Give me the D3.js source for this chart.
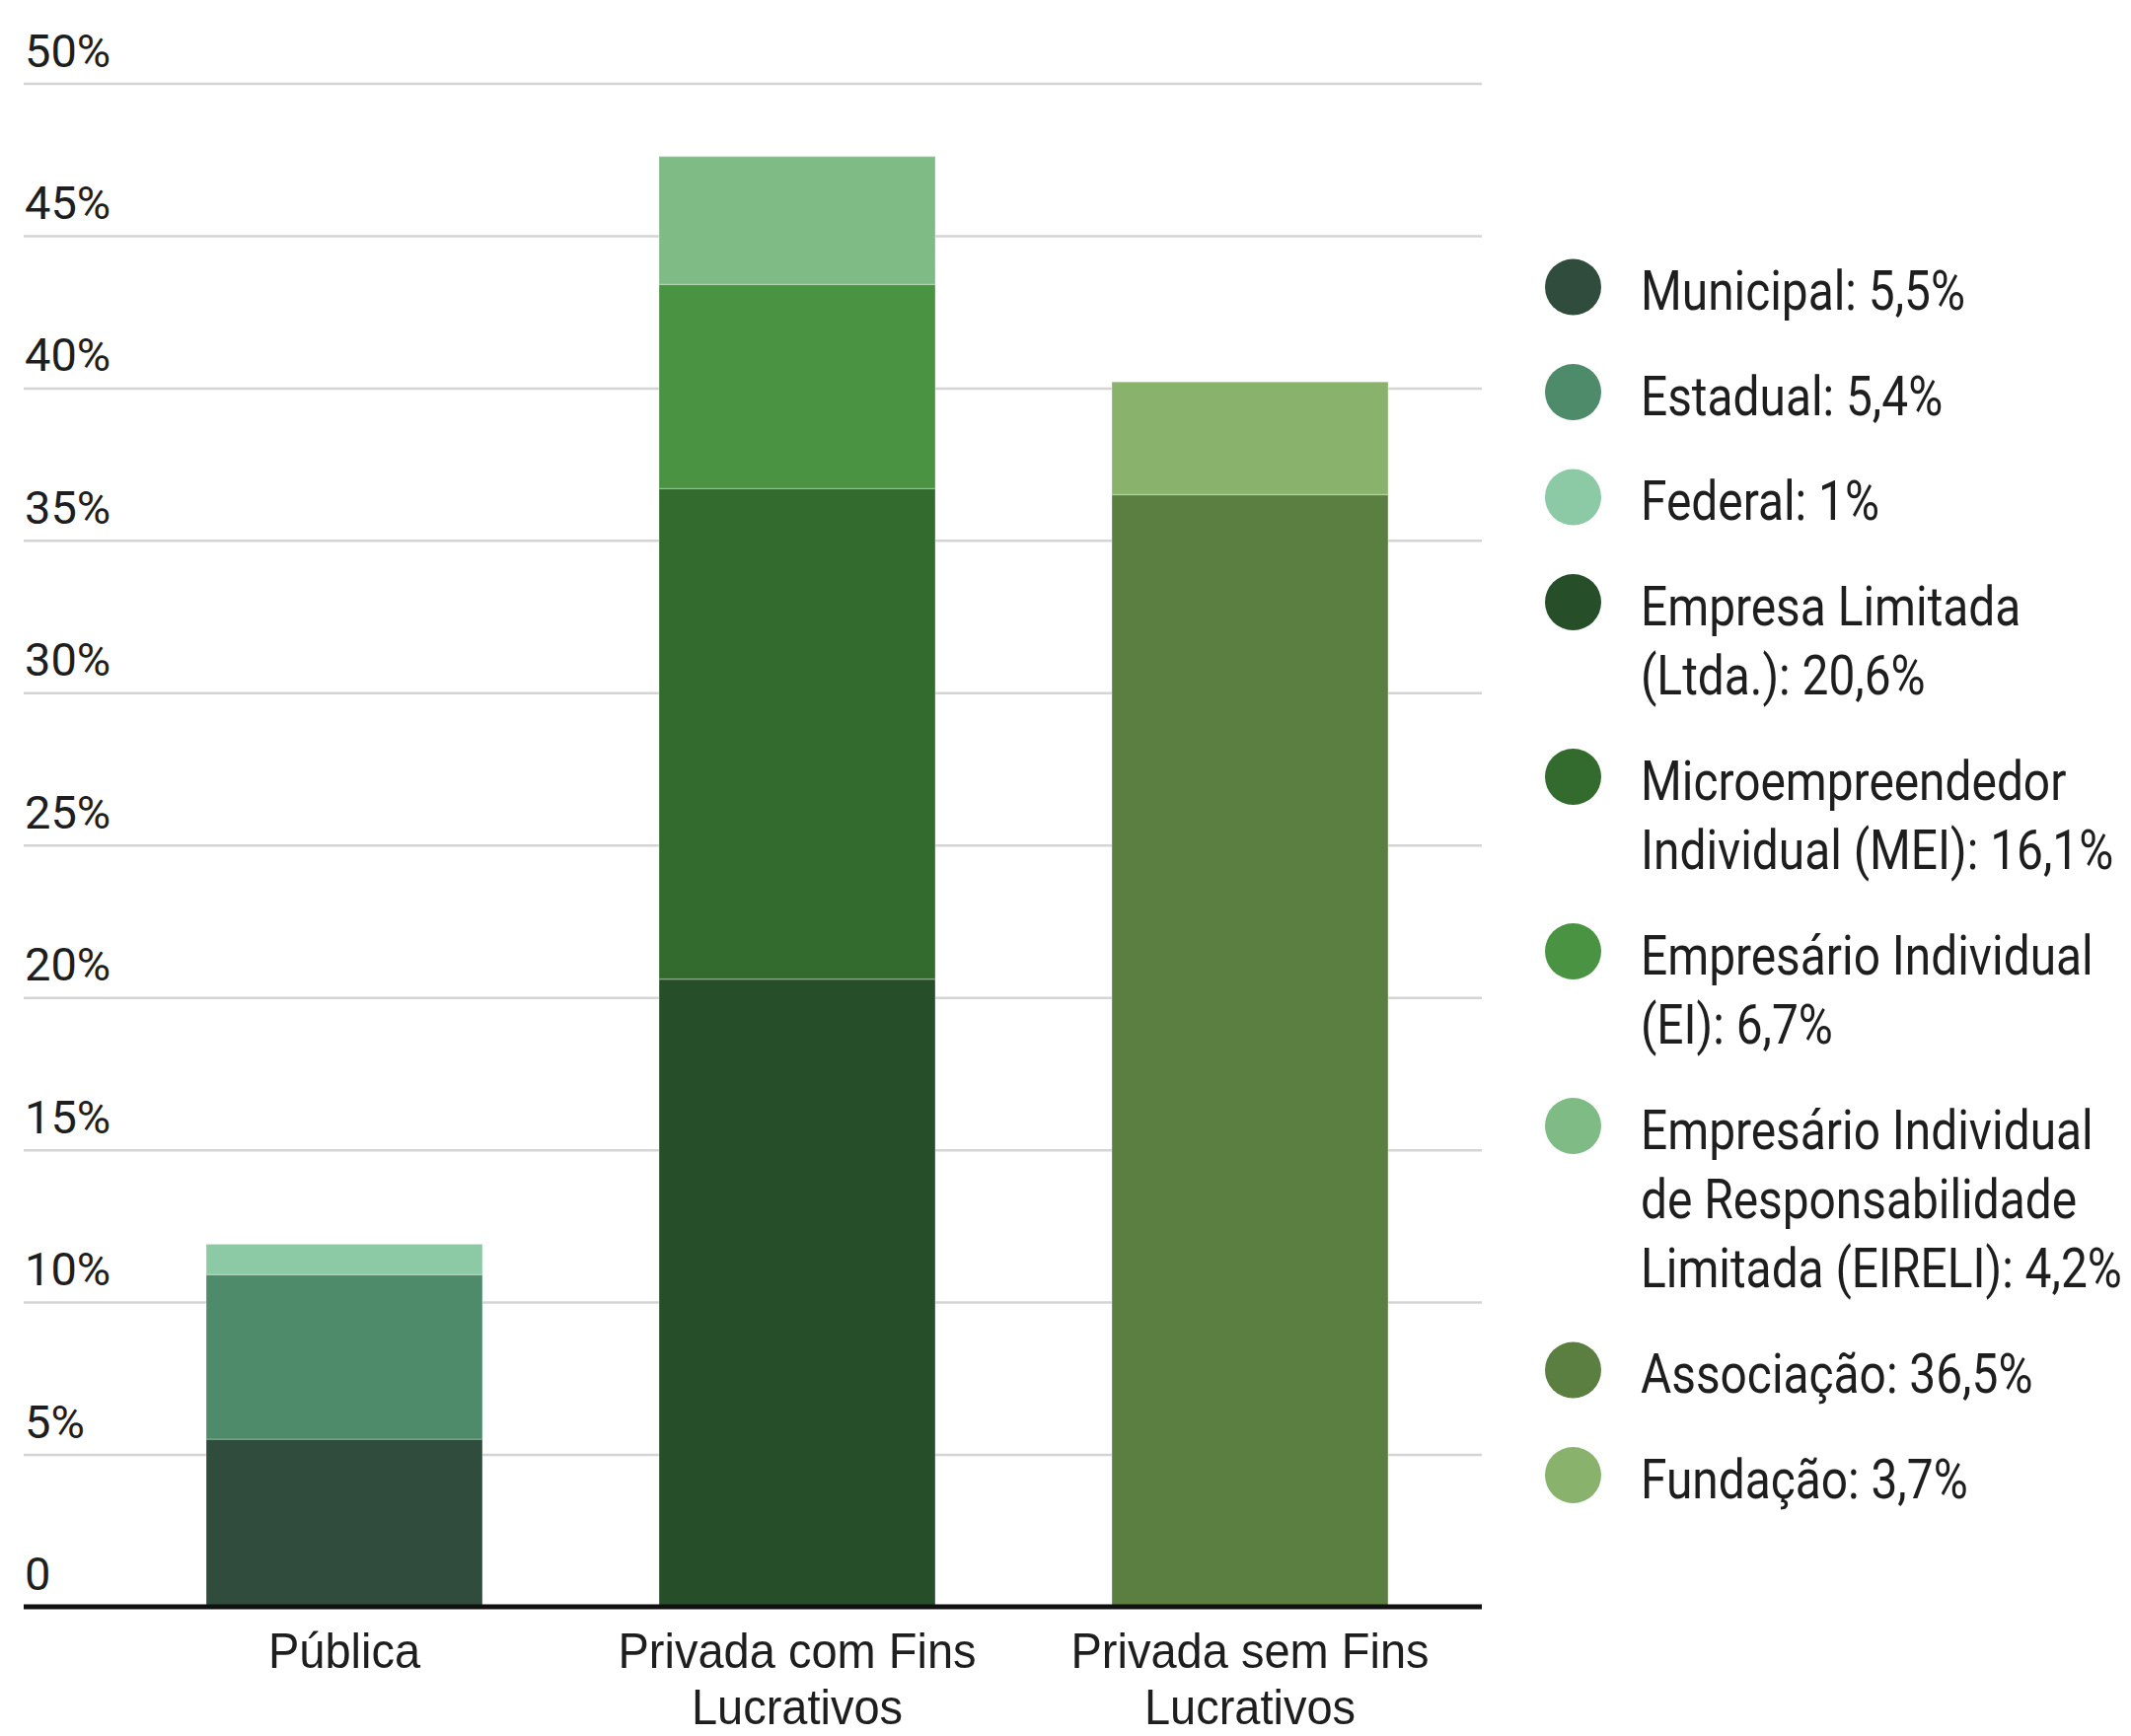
<!DOCTYPE html>
<html>
<head>
<meta charset="utf-8">
<script src="https://cdn.jsdelivr.net/npm/d3@7"></script>
<style>
  html, body { margin: 0; padding: 0; background: #ffffff; }
  svg { display: block; font-family: Roboto, "Noto Sans", sans-serif; }
</style>
</head>
<body>
<svg id="chart" width="2160" height="1760"></svg>
<script>
// Categories on the x axis and their wrapped label lines
const categories = ["Pública", "Privada com Fins Lucrativos", "Privada sem Fins Lucrativos"];
const categoryLines = [["Pública"], ["Privada com Fins", "Lucrativos"], ["Privada sem Fins", "Lucrativos"]];

// Stacked series: name, owning category, value (%)
const seriesNames = [
  "Municipal", "Estadual", "Federal",
  "Empresa Limitada (Ltda.)", "Microempreendedor Individual (MEI)",
  "Empresário Individual (EI)", "Empresário Individual de Responsabilidade Limitada (EIRELI)",
  "Associação", "Fundação"
];
const seriesCategory = [0, 0, 0, 1, 1, 1, 1, 2, 2];
const seriesValues = [5.5, 5.4, 1, 20.6, 16.1, 6.7, 4.2, 36.5, 3.7];
const seriesColors = ["#2f4c3d", "#4e8b6a", "#8cc9a5", "#264f29", "#336b2e", "#4a9343", "#7fbb85", "#5a7f41", "#89b36c"];

// Legend wording, split into lines
const legendLines = [
  ["Municipal"], ["Estadual"], ["Federal"],
  ["Empresa Limitada", "(Ltda.)"],
  ["Microempreendedor", "Individual (MEI)"],
  ["Empresário Individual", "(EI)"],
  ["Empresário Individual", "de Responsabilidade", "Limitada (EIRELI)"],
  ["Associação"], ["Fundação"]
];

// Y axis ticks
const yTicks = [0, 5, 10, 15, 20, 25, 30, 35, 40, 45, 50];
const yTickLabels = ["0", "5%", "10%", "15%", "20%", "25%", "30%", "35%", "40%", "45%", "50%"];

const svg = d3.select("#chart");
const textColor = "#1e1e1e";

const gridLeft = 24, gridRight = 1502;
const y = d3.scaleLinear().domain([0, 50]).range([1629, 84.5]);
const x = d3.scaleBand().domain(categories).range([119.5, 1496.5]).paddingInner(0.39).paddingOuter(0.195);

// Gridlines and tick labels
const yAxis = d3.axisLeft(y)
  .tickValues(yTicks)
  .tickFormat((d, i) => yTickLabels[i])
  .tickSize(-(gridRight - gridLeft));

const gy = svg.append("g")
  .attr("transform", `translate(${gridLeft},0)`)
  .call(yAxis);
gy.select(".domain").remove();
gy.selectAll(".tick line").attr("stroke", "#d4d4d4").attr("stroke-width", 2.5);
gy.selectAll(".tick text")
  .attr("x", 1)
  .attr("y", -17.5)
  .attr("dy", 0)
  .attr("text-anchor", "start")
  .attr("fill", textColor)
  .style("font-size", "47px")
  .style("font-family", "Roboto, sans-serif");

// Stacked bars
const table = categories.map((c, i) => {
  const row = { category: c };
  seriesNames.forEach((s, j) => { row[s] = seriesCategory[j] === i ? seriesValues[j] : 0; });
  return row;
});
const stacked = d3.stack().keys(seriesNames)(table);

const bars = svg.append("g");
stacked.forEach((layer, j) => {
  bars.selectAll(null)
    .data(layer.filter(d => d[1] > d[0]))
    .join("rect")
    .attr("x", d => x(d.data.category))
    .attr("y", d => y(d[1]))
    .attr("width", x.bandwidth())
    .attr("height", d => y(d[0]) - y(d[1]))
    .attr("fill", seriesColors[j])
    .attr("stroke", "rgba(255,255,255,0.22)")
    .attr("stroke-width", 1.5);
});

// X axis baseline and category labels
const xAxis = d3.axisBottom(x).tickSize(0).tickFormat("");
const gx = svg.append("g").attr("transform", `translate(0,${y(0)})`).call(xAxis);
gx.select(".domain").remove();
svg.append("line")
  .attr("x1", gridLeft).attr("x2", gridRight)
  .attr("y1", y(0)).attr("y2", y(0))
  .attr("stroke", "#111").attr("stroke-width", 5);

gx.selectAll(".tick").each(function(d, i) {
  const t = d3.select(this).append("text")
    .attr("fill", textColor)
    .attr("text-anchor", "middle")
    .style("font-size", "50px")
    .attr("transform", "translate(0,62) scale(0.94,1)");
  categoryLines[i].forEach((line, k) => {
    t.append("tspan").attr("x", 0).attr("y", k * 57).text(line);
  });
});

// Legend
const fmt = v => String(v).replace(".", ",") + "%";
const legend = svg.append("g");
const legendX = 1594.5, legendTextX = 1663;
let cy = 291;
seriesNames.forEach((s, j) => {
  legend.append("circle")
    .attr("cx", legendX).attr("cy", cy).attr("r", 28.5)
    .attr("fill", seriesColors[j]);
  const lines = legendLines[j].slice();
  lines[lines.length - 1] = lines[lines.length - 1] + ": " + fmt(seriesValues[j]);
  const t = legend.append("text")
    .attr("fill", textColor)
    .style("font-size", "55px")
    .attr("transform", `translate(${legendTextX},${cy + 23}) scale(0.87,1)`);
  lines.forEach((line, k) => {
    t.append("tspan").attr("x", 0).attr("y", k * 70.5).text(line);
  });
  cy += 106.5 + (lines.length - 1) * 70.5;
});
</script>
</body>
</html>
